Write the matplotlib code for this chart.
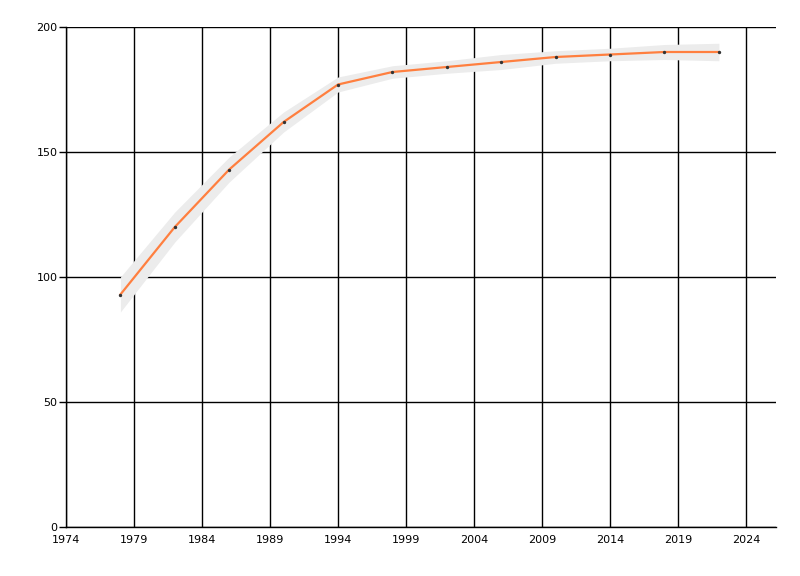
import matplotlib
matplotlib.use("Agg")
import matplotlib.pyplot as plt
import numpy as np

years = [1978, 1982, 1986, 1990, 1994, 1998, 2002, 2006, 2010, 2014, 2018, 2022]
values = [93, 120, 143, 162, 177, 182, 184, 186, 188, 189, 190, 190]
band_halfwidth = [7, 6, 5, 4, 3, 2.5, 2.5, 3, 2.5, 2.5, 3, 3.5]
x_ticks = [1974, 1979, 1984, 1989, 1994, 1999, 2004, 2009, 2014, 2019, 2024]
y_ticks = [0, 50, 100, 150, 200]

plt.rcParams["font.family"] = ["DejaVu Sans"]

fig = plt.figure(figsize=(8, 5.76), dpi=100)
ax = fig.add_axes([66 / 800, 1 - 527 / 576, 710 / 800, 500 / 576])

vals = np.array(values, dtype=float)
hw = np.array(band_halfwidth, dtype=float)
ax.fill_between(years, vals - hw, vals + hw, color="#ececec", linewidth=0, zorder=1)
ax.plot(years, values, color="#ff7f3f", linewidth=1.6, zorder=3)
ax.scatter(years, values, s=2, color="#333333", zorder=4)

ax.set_xlim(1974, 2026.2)
ax.set_ylim(0, 200)
ax.set_xticks(x_ticks)
ax.set_yticks(y_ticks)
ax.grid(True, color="black", linewidth=1)
ax.set_axisbelow(True)
for side in ("top", "right"):
    ax.spines[side].set_visible(False)
for side in ("left", "bottom"):
    ax.spines[side].set_linewidth(1)
ax.tick_params(axis="both", labelsize=8, length=5, width=1, colors="black", pad=1)
ax.tick_params(axis="x", length=0, pad=6)

fig.savefig("out.png", dpi=100)
